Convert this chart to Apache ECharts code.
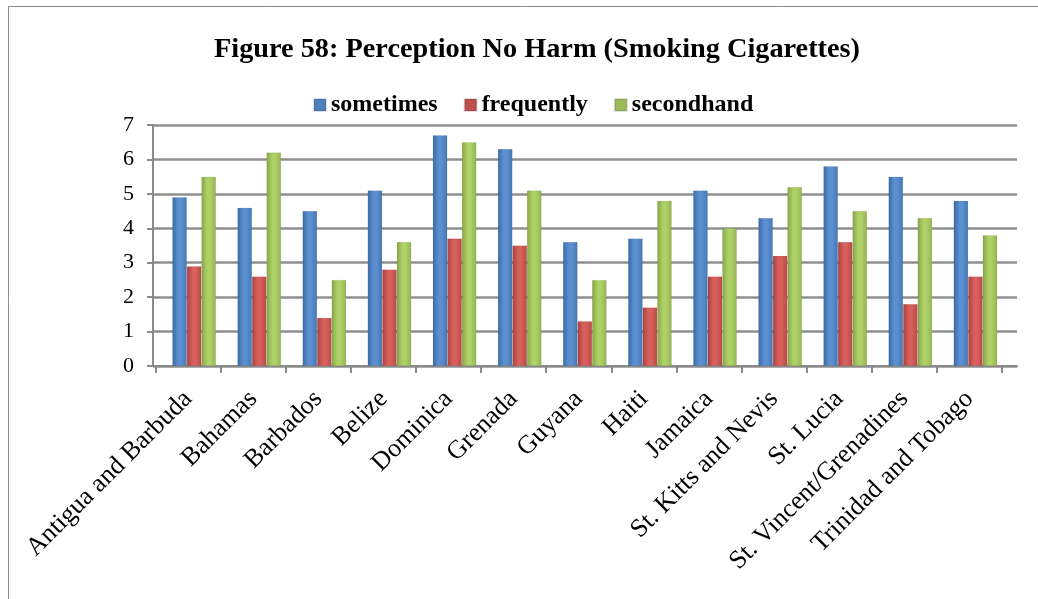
<!DOCTYPE html>
<html>
<head>
<meta charset="utf-8">
<script src="https://cdn.jsdelivr.net/npm/echarts@6/dist/echarts.min.js"></script>
<style>
  html, body { margin: 0; padding: 0; background: #fff; }
  #chart { width: 1038px; height: 599px; }
</style>
</head>
<body>
<div id="chart"></div>
<script>
// Countries on the category axis
const countries = [
  'Antigua and Barbuda', 'Bahamas', 'Barbados', 'Belize', 'Dominica', 'Grenada',
  'Guyana', 'Haiti', 'Jamaica', 'St. Kitts and Nevis', 'St. Lucia',
  'St. Vincent/Grenadines', 'Trinidad and Tobago'
];
// Percent perceiving no harm, by smoking frequency
const sometimes  = [4.9, 4.6, 4.5, 5.1, 6.7, 6.3, 3.6, 3.7, 5.1, 4.3, 5.8, 5.5, 4.8];
const frequently = [2.9, 2.6, 1.4, 2.8, 3.7, 3.5, 1.3, 1.7, 2.6, 3.2, 3.6, 1.8, 2.6];
const secondhand = [5.5, 6.2, 2.5, 3.6, 6.5, 5.1, 2.5, 4.8, 4.0, 5.2, 4.5, 4.3, 3.8];
const seriesNames = ['sometimes', 'frequently', 'secondhand'];
const yTicks = [0, 1, 2, 3, 4, 5, 6, 7];

const serif = '"Liberation Serif", "Times New Roman", serif';
const axisGrey = '#8a8a8a';

// Cylinder-like shading across each column
function barFill(dark, mid, light) {
  return new echarts.graphic.LinearGradient(0, 0, 1, 0, [
    { offset: 0, color: dark },
    { offset: 0.4, color: light },
    { offset: 0.6, color: light },
    { offset: 1, color: mid }
  ]);
}

const palette = [
  { legend: '#4F81BD', fill: barFill('#3a6aa5', '#4677b4', '#5b8fd0') },
  { legend: '#C0504D', fill: barFill('#a8403d', '#b84a47', '#d7605c') },
  { legend: '#9BBB59', fill: barFill('#86a548', '#93b451', '#aed067') }
];
const values = [sometimes, frequently, secondhand];

const plotTop = 125, plotBottom = 233;
const valueAxisHidden = {
  type: 'value', min: 0, max: 7, interval: 1, show: false
};

const chart = echarts.init(document.getElementById('chart'), null, { renderer: 'canvas' });
chart.setOption({
  animation: false,
  title: {
    text: 'Figure 58: Perception No Harm (Smoking Cigarettes)',
    left: 209,
    top: 31,
    textStyle: { fontFamily: serif, fontWeight: 'bold', fontSize: 28.3, color: '#000' }
  },
  legend: {
    data: seriesNames.map((n, i) => ({ name: n, itemStyle: { color: palette[i].legend } })),
    top: 88,
    left: 308,
    itemWidth: 12,
    itemHeight: 12,
    itemGap: 26,
    icon: 'rect',
    textStyle: { fontFamily: serif, fontWeight: 'bold', fontSize: 24, color: '#000', padding: [0, 0, 0, 0] }
  },
  graphic: [{
    type: 'rect',
    shape: { x: 8.5, y: 6.5, width: 1100, height: 700 },
    style: { fill: 'none', stroke: '#8c8c8c', lineWidth: 1 },
    silent: true
  }],
  grid: [
    // frame: value axis, gridlines, baseline
    { left: 153, right: 21, top: plotTop, bottom: plotBottom },
    // category ticks and labels
    { left: 155.6, right: 36, top: plotTop, bottom: plotBottom },
    // columns
    { left: 161.6, right: 30, top: plotTop, bottom: plotBottom }
  ],
  xAxis: [
    {
      gridIndex: 0, type: 'value', min: 0, max: 1,
      axisLine: { show: true, lineStyle: { color: axisGrey, width: 2 } },
      axisTick: { show: false }, axisLabel: { show: false }, splitLine: { show: false }
    },
    {
      gridIndex: 1, type: 'category', data: countries,
      axisLine: { show: false },
      axisTick: { show: true, length: 7, lineStyle: { color: axisGrey, width: 2 } },
      axisLabel: {
        rotate: 45, margin: 29, fontFamily: serif, fontSize: 26, color: '#000', interval: 0
      }
    },
    { gridIndex: 2, type: 'category', data: countries, show: false }
  ],
  yAxis: [
    {
      gridIndex: 0, type: 'value', min: 0, max: 7, interval: 1,
      axisLine: { show: true, lineStyle: { color: axisGrey, width: 2 } },
      axisTick: { show: true, length: 6, lineStyle: { color: axisGrey, width: 2 } },
      axisLabel: {
        margin: 19, fontFamily: serif, fontSize: 22, color: '#000',
        formatter: v => (yTicks.indexOf(v) >= 0 ? String(v) : '')
      },
      splitLine: { lineStyle: { color: '#8f8f8f', width: 2.5 } }
    },
    Object.assign({ gridIndex: 1 }, valueAxisHidden),
    Object.assign({ gridIndex: 2 }, valueAxisHidden)
  ],
  series: seriesNames.map((name, i) => ({
    name,
    type: 'bar',
    xAxisIndex: 2,
    yAxisIndex: 2,
    data: values[i],
    barGap: '0%',
    barCategoryGap: '33%',
    itemStyle: { color: palette[i].fill, borderColor: 'rgba(0,0,0,0.12)', borderWidth: 0.5 }
  }))
});
</script>
</body>
</html>
